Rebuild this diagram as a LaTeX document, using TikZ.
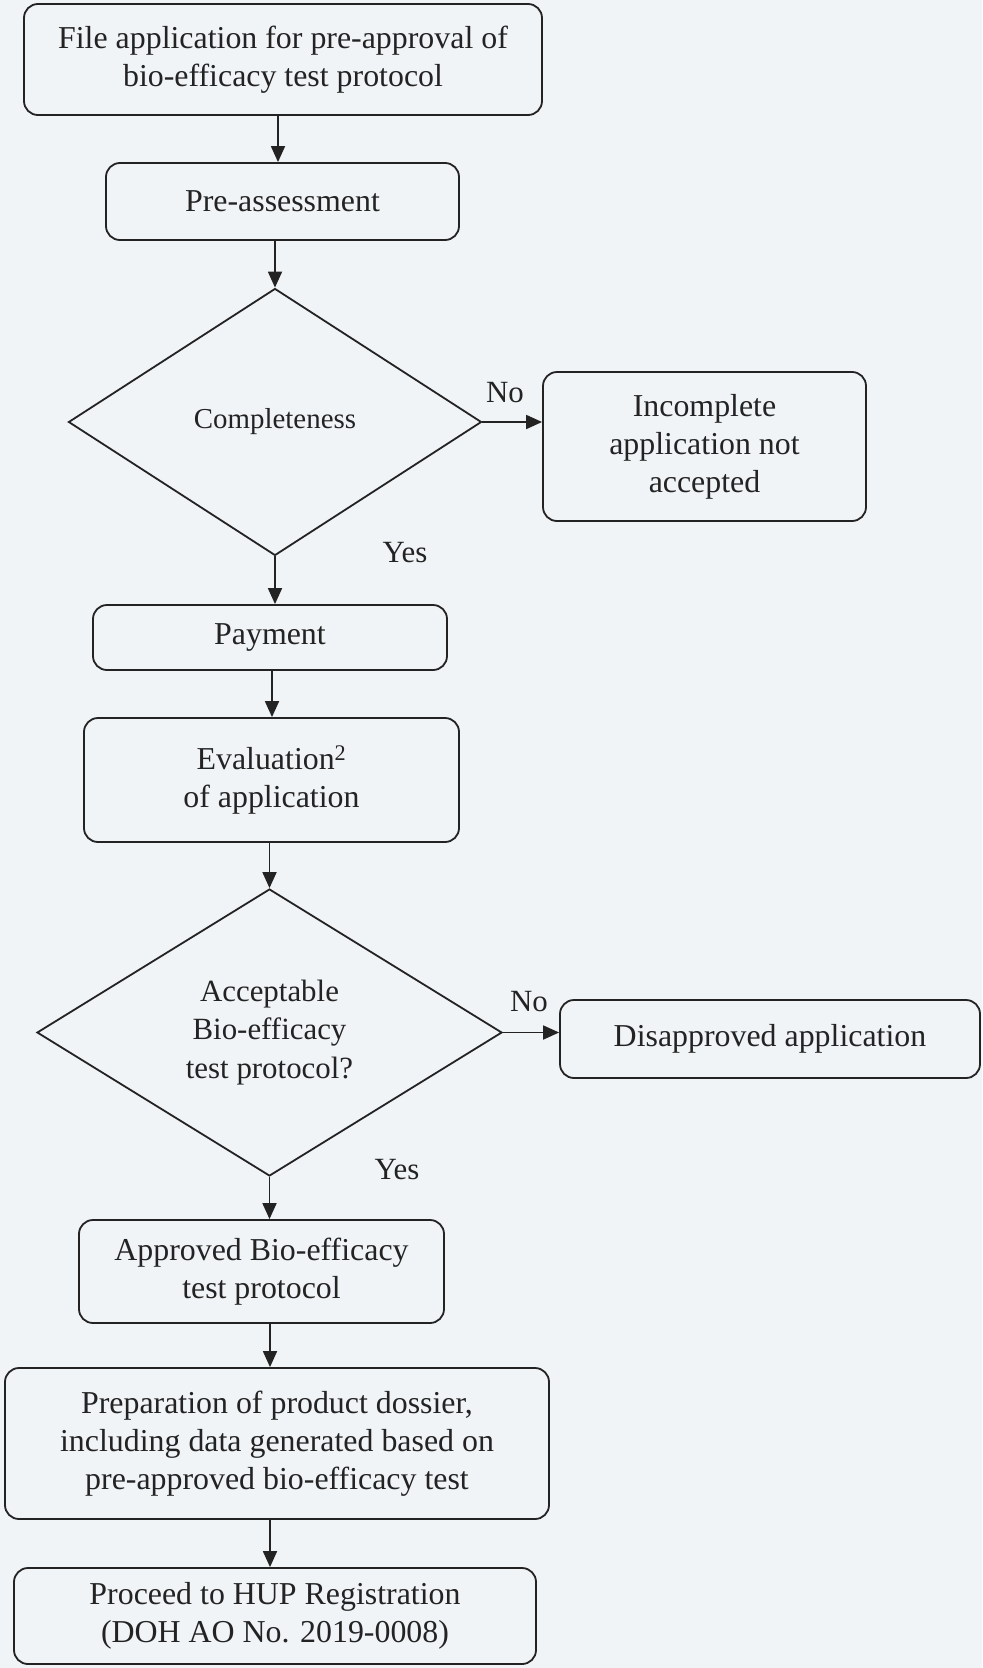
\documentclass[tikz,border=0pt]{standalone}
\usepackage{fontspec}
\setmainfont{Liberation Serif}
\usetikzlibrary{shapes.geometric,arrows.meta}
\definecolor{bg}{RGB}{241,244,247}
\definecolor{ink}{RGB}{35,35,35}
\begin{document}
\begin{tikzpicture}[x=1bp,y=-1bp,
  box/.style={draw=ink, line width=1.8bp, rounded corners=14bp, fill=bg, align=center, text=ink, inner sep=0pt, font=\fontsize{32}{38}\selectfont},
  dec/.style={draw=ink, diamond, line width=1.8bp, fill=bg, align=center, text=ink, inner sep=0pt, font=\fontsize{31}{39}\selectfont},
  lbl/.style={text=ink, inner sep=0pt, font=\fontsize{31}{37}\selectfont},
  arr/.style={draw=ink, line width=1.8bp, -{Triangle[length=16bp,width=14bp]}}]
\fill[bg] (0,0) rectangle (982,1668);
\useasboundingbox (0,0) rectangle (982,1668);

\node[box, minimum width=518bp, minimum height=111bp] (file) at (283,59.5) {File application for pre-approval of\\bio-efficacy test protocol};
\node[box, minimum width=353bp, minimum height=77bp] (pre) at (282.5,201.5) {Pre-assessment};
\node[dec, minimum width=413bp, minimum height=267bp, font=\fontsize{29}{35}\selectfont] (comp) at (275,422) {Completeness};
\node[box, minimum width=323bp, minimum height=149bp] (inc) at (704.5,446.5) {Incomplete\\application not\\accepted};
\node[box, minimum width=354bp, minimum height=65bp] (pay) at (270,637.5) {Payment};
\node[box, minimum width=375bp, minimum height=124bp] (eval) at (271.5,780) {Evaluation\textsuperscript{2}\\of application};
\node[dec, minimum width=465bp, minimum height=287bp] (acc) at (269.5,1032.5) {Acceptable\\Bio-efficacy\\test protocol?};
\node[box, minimum width=420bp, minimum height=78bp] (dis) at (770,1039) {Disapproved application};
\node[box, minimum width=365bp, minimum height=103bp] (appr) at (261.5,1271.5) {Approved Bio-efficacy\\test protocol};
\node[box, minimum width=544bp, minimum height=151bp] (prep) at (277,1443.5) {Preparation of product dossier,\\including data generated based on\\pre-approved bio-efficacy test};
\node[box, minimum width=522bp, minimum height=96bp] (proc) at (275,1616) {Proceed to HUP Registration\\(DOH AO No. 2019-0008)};

\node[lbl] (no1) at (505,393) {No};
\node[lbl] (yes1) at (405,553) {Yes};
\node[lbl] (no2) at (529,1002) {No};
\node[lbl] (yes2) at (397,1170) {Yes};

\coordinate (c1) at (278,0);
\coordinate (c2) at (272,0);
\coordinate (c3) at (270,0);
\draw[arr] (file.south -| c1) -- (pre.north -| c1);
\draw[arr] (pre.south -| comp.north) -- (comp.north);
\draw[arr] (comp.east) -- (comp.east -| inc.west);
\draw[arr] (comp.south) -- (comp.south |- pay.north);
\draw[arr] (pay.south -| c2) -- (eval.north -| c2);
\draw[arr] (eval.south -| acc.north) -- (acc.north);
\draw[arr] (acc.east) -- (acc.east -| dis.west);
\draw[arr] (acc.south) -- (acc.south |- appr.north);
\draw[arr] (appr.south -| c3) -- (prep.north -| c3);
\draw[arr] (prep.south -| c3) -- (proc.north -| c3);
\end{tikzpicture}
\end{document}
